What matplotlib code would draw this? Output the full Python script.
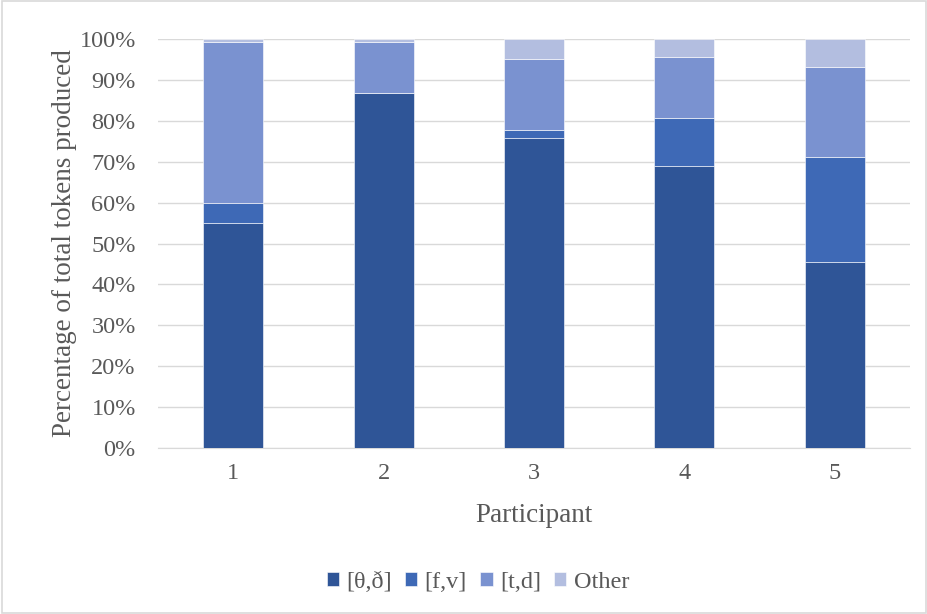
import matplotlib
matplotlib.use("Agg")
import matplotlib.pyplot as plt
from matplotlib.patches import Rectangle
import numpy as np

participants = ["1", "2", "3", "4", "5"]
series_names = ["[θ,ð]", "[f,v]", "[t,d]", "Other"]
theta_eth = [54.9, 86.7, 75.7, 69.0, 45.4]
f_v = [5.1, 0.0, 2.1, 11.6, 25.8]
t_d = [39.2, 12.5, 17.2, 15.1, 22.0]
other = [0.8, 0.8, 5.0, 4.3, 6.8]

colors = ["#2F5597", "#3E69B6", "#7A92D0", "#B3BEE0"]
text_col = "#595959"

plt.rcParams["font.family"] = ["Liberation Serif", "DejaVu Serif"]

fig = plt.figure(figsize=(9.28, 6.14), dpi=100)
ax = fig.add_axes([158 / 928, 1 - 448 / 614, 752 / 928, 409 / 614])

x = np.arange(1, len(participants) + 1)
bottom = np.zeros(len(participants))
for name, vals, c in zip(series_names, [theta_eth, f_v, t_d, other], colors):
    ax.bar(x, vals, bottom=bottom, width=0.4, color=c, label=name,
           edgecolor="white", linewidth=0.4, zorder=3)
    bottom += np.array(vals)

ax.set_xlim(0.5, 5.5)
ax.set_ylim(0, 100)
ax.set_yticks(np.arange(0, 101, 10))
ax.set_yticklabels([f"{v}%" for v in range(0, 101, 10)])
ax.set_xticks(x)
ax.set_xticklabels(participants)
ax.grid(axis="y", color="#D9D9D9", linewidth=1.0, zorder=0)
for s in ["top", "right", "left"]:
    ax.spines[s].set_visible(False)
ax.spines["bottom"].set_color("#D9D9D9")
ax.tick_params(length=0, labelsize=17.5, colors=text_col)
ax.tick_params(axis="x", pad=11)
ax.tick_params(axis="y", pad=16)

ax.set_xlabel("Participant", fontsize=19.5, color=text_col)
ax.set_ylabel("Percentage of total tokens produced", fontsize=19.5,
              color=text_col)
ax.xaxis.set_label_coords(0.5, -(515 - 448) / 409, transform=ax.transAxes)
ax.xaxis.label.set_va("center")
ax.yaxis.set_label_coords(-(158 - 65) / 752, 0.5, transform=ax.transAxes)
ax.yaxis.label.set_va("center")

leg = fig.legend(loc="center", bbox_to_anchor=(0.515, 1 - 582 / 614), ncol=4,
                 frameon=False, fontsize=17.5, handlelength=0.5,
                 handleheight=0.5, handletextpad=0.3, columnspacing=0.55)
for t in leg.get_texts():
    t.set_color(text_col)

fig.patches.append(Rectangle((0.002, 0.002), 0.996, 0.996,
                             transform=fig.transFigure, fill=False,
                             edgecolor="#D9D9D9", linewidth=1.2))

fig.savefig("out.png", dpi=100)
